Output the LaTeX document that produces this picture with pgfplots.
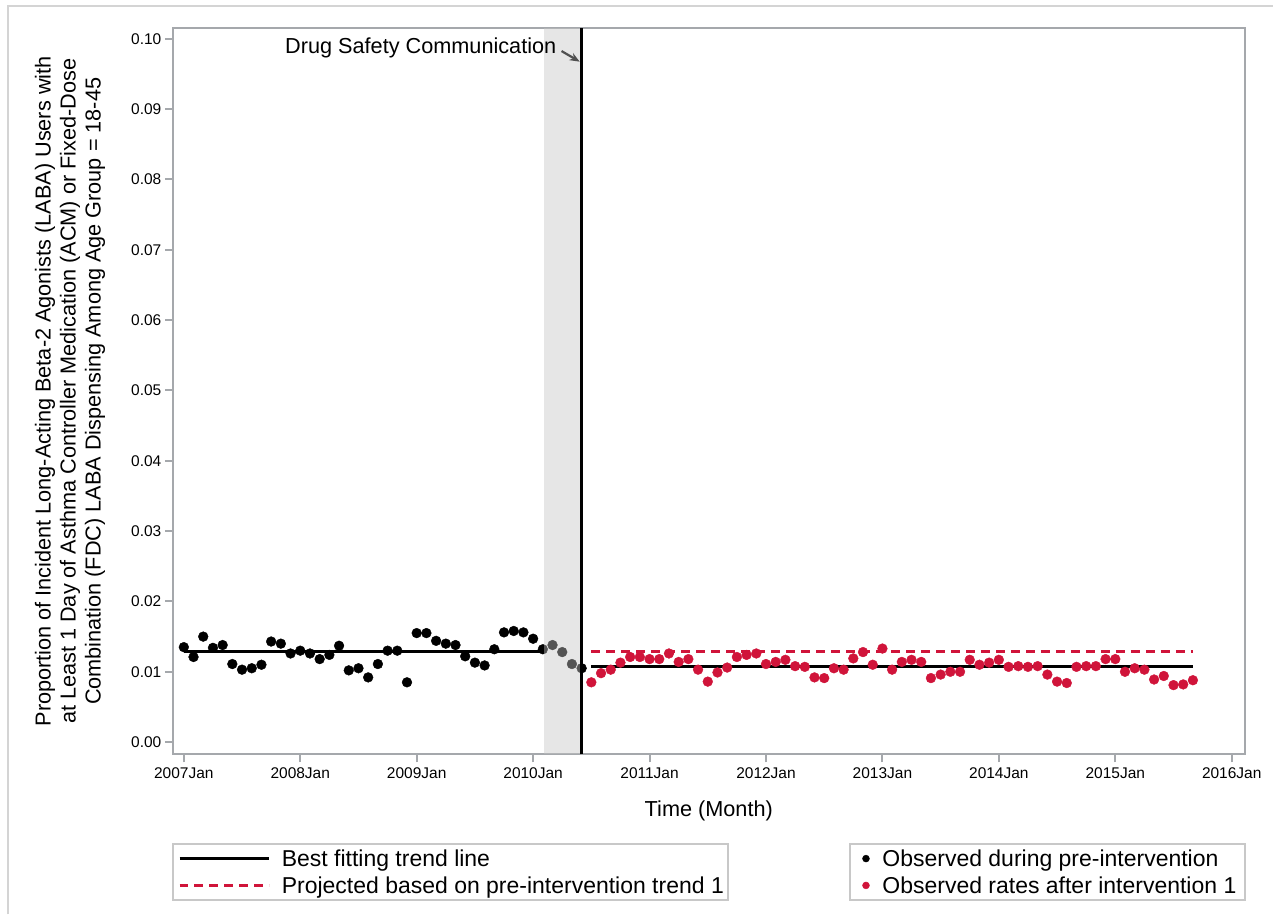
\documentclass[border=0pt]{standalone}
\usepackage{fontspec}
\setmainfont{Liberation Sans}
\usepackage{pgfplots}
\usepackage{pgfplotstable}
\pgfplotsset{compat=1.18}
\usetikzlibrary{arrows.meta}
\definecolor{axgray}{RGB}{165,168,172}
\definecolor{framegray}{RGB}{212,212,212}
\definecolor{legframe}{RGB}{200,200,200}
\definecolor{myred}{RGB}{208,20,58}
\definecolor{shadegray}{gray}{0.77}
\definecolor{arrowgray}{RGB}{80,80,80}

\pgfplotstableread{
m v
0 0.0135
1 0.0121
2 0.0150
3 0.0134
4 0.0138
5 0.0111
6 0.0103
7 0.0105
8 0.0110
9 0.0143
10 0.0140
11 0.0126
12 0.0130
13 0.0126
14 0.0118
15 0.0124
16 0.0137
17 0.0102
18 0.0105
19 0.0092
20 0.0111
21 0.0130
22 0.0130
23 0.0085
24 0.0155
25 0.0155
26 0.0144
27 0.0140
28 0.0138
29 0.0122
30 0.0113
31 0.0109
32 0.0132
33 0.0156
34 0.0158
35 0.0156
36 0.0147
37 0.0132
38 0.0138
39 0.0128
40 0.0111
41 0.0105
}\predata

\pgfplotstableread{
m v
42 0.0085
43 0.0098
44 0.0103
45 0.0113
46 0.0121
47 0.0121
48 0.0118
49 0.0118
50 0.0126
51 0.0114
52 0.0118
53 0.0103
54 0.0086
55 0.0099
56 0.0106
57 0.0121
58 0.0124
59 0.0126
60 0.0111
61 0.0114
62 0.0117
63 0.0108
64 0.0107
65 0.0092
66 0.0091
67 0.0105
68 0.0103
69 0.0119
70 0.0128
71 0.0110
72 0.0133
73 0.0103
74 0.0114
75 0.0117
76 0.0114
77 0.0091
78 0.0096
79 0.0100
80 0.0100
81 0.0117
82 0.0110
83 0.0113
84 0.0117
85 0.0107
86 0.0108
87 0.0107
88 0.0108
89 0.0096
90 0.0086
91 0.0084
92 0.0107
93 0.0108
94 0.0108
95 0.0118
96 0.0118
97 0.0100
98 0.0105
99 0.0103
100 0.0089
101 0.0094
102 0.0081
103 0.0082
104 0.0088
}\postdata

\begin{document}
\begin{tikzpicture}
\draw[framegray, line width=2pt] (8pt,0pt) -- (8pt,909pt) -- (1274pt,909pt);
\draw[legframe, line width=2pt] (172.7pt,14.5pt) rectangle (729pt,70pt);
\draw[legframe, line width=2pt] (851pt,14.5pt) rectangle (1245.7pt,70pt);

\begin{axis}[
  set layers,
  at={(173pt,160pt)}, anchor=south west, scale only axis,
  width=1072.7pt, height=726.7pt,
  xmin=-1.13, xmax=109.34, ymin=-0.00175, ymax=0.1015,
  axis line style={axgray, line width=2pt},
  xtick={0,12,24,36,48,60,72,84,96,108},
  xticklabels={2007Jan,2008Jan,2009Jan,2010Jan,2011Jan,2012Jan,2013Jan,2014Jan,2015Jan,2016Jan},
  ytick={0,0.01,0.02,0.03,0.04,0.05,0.06,0.07,0.08,0.09,0.10},
  scaled y ticks=false,
  yticklabel style={/pgf/number format/.cd, fixed, fixed zerofill, precision=2},
  /pgf/number format/assume math mode=true,
  tick style={axgray, line width=2pt},
  major tick length=8pt, tick align=outside,
  xtick pos=bottom, ytick pos=left,
  ticklabel style={font=\fontsize{15.5}{18}\selectfont},
  xticklabel style={yshift=-2pt},
  xlabel={Time (Month)},
  xlabel style={at={(axis description cs:0.5,-0.078)}, anchor=center, font=\fontsize{21.7}{26}\selectfont},
  ylabel={Proportion of Incident Long-Acting Beta-2 Agonists (LABA) Users with\\at Least 1 Day of Asthma Controller Medication (ACM) or Fixed-Dose\\Combination (FDC) LABA Dispensing Among Age Group = 18-45},
  ylabel style={at={(axis description cs:-0.096,0.5)}, anchor=center, align=center, font=\fontsize{21.7}{25}\selectfont},
  legend cell align=left,
  legend image code/.code={\draw[#1] (0pt,0pt) -- (90pt,0pt);},
  legend style={at={(axis description cs:0.0019,-0.1252)}, anchor=north west, draw=none, fill=none,
    font=\fontsize{23}{27}\selectfont, row sep=4.7pt,
    /tikz/every odd column/.append style={column sep=9pt}},
]
\addplot[black, line width=2.8pt] coordinates {(0,0.01284) (37,0.01284)};
\addlegendentry{Best fitting trend line}
\addplot[myred, line width=2.8pt, dash pattern=on 9pt off 6pt] coordinates {(42,0.01284) (104,0.01284)};
\addlegendentry{Projected based on pre-intervention trend 1}
\addplot[black, line width=2.8pt, forget plot] coordinates {(42,0.01075) (104,0.01075)};
\addplot[only marks, mark=*, mark size=4.9pt, black, forget plot] table[x=m,y=v]{\predata};
\addplot[only marks, mark=*, mark size=4.9pt, myred, forget plot] table[x=m,y=v]{\postdata};
\begin{pgfonlayer}{axis foreground}
\fill[shadegray, opacity=0.43] (axis cs:37.1,-0.00175) rectangle (axis cs:41,0.1015);
\draw[black, line width=2.5pt] (axis cs:41,-0.00175) -- (axis cs:41,0.1015);
\node[anchor=east, inner sep=0pt, font=\fontsize{21.7}{26}\selectfont] at (axis cs:38.41,0.09868) {Drug Safety Communication};
\draw[arrowgray, line width=2.2pt, -{Stealth[length=10pt,width=8pt]}] (axis cs:38.93,0.09826) -- (axis cs:40.8,0.09675);
\end{pgfonlayer}
\end{axis}

\begin{axis}[
  at={(173pt,160pt)}, anchor=south west, scale only axis,
  width=1072.7pt, height=726.7pt,
  hide axis, xmin=0, xmax=1, ymin=0, ymax=1,
  legend cell align=left,
  legend style={at={(axis description cs:0.6404,-0.1252)}, anchor=north west, draw=none, fill=none,
    font=\fontsize{23}{27}\selectfont, row sep=4.7pt,
    /tikz/every odd column/.append style={column sep=11pt}},
]
\addlegendimage{only marks, mark=*, mark size=3.5pt, black}
\addlegendentry{Observed during pre-intervention}
\addlegendimage{only marks, mark=*, mark size=3.5pt, myred}
\addlegendentry{Observed rates after intervention 1}
\end{axis}
\path (0pt,0pt) rectangle (1274pt,915pt);
\end{tikzpicture}
\end{document}
